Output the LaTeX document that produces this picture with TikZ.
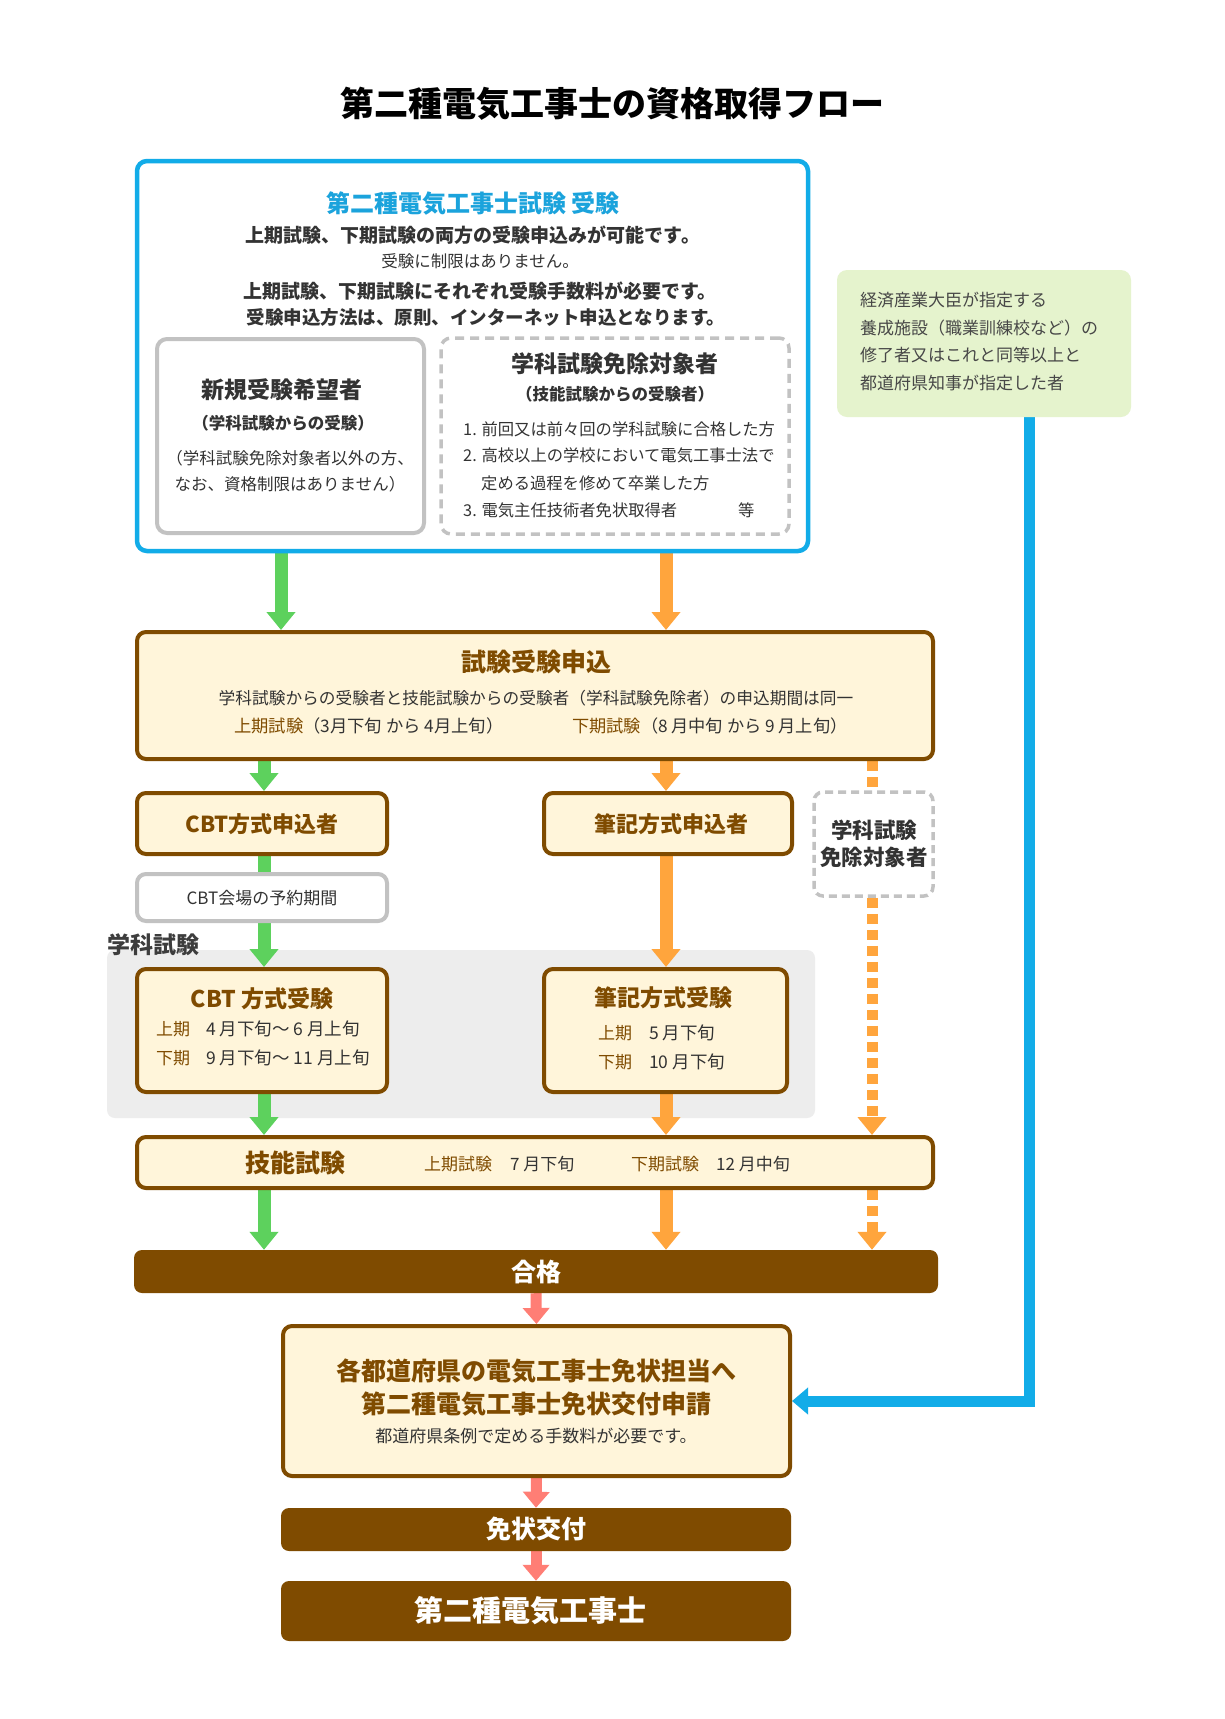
\documentclass[tikz,border=0pt]{standalone}
\usepackage{fontspec}
\setmainfont{Noto Sans CJK JP}
\usetikzlibrary{arrows.meta}
\definecolor{brownc}{HTML}{7F4B00}
\definecolor{cream}{HTML}{FFF5DA}
\definecolor{bluec}{HTML}{12ACE8}
\definecolor{bluet}{HTML}{1BA3DC}
\definecolor{greenA}{HTML}{5DD15D}
\definecolor{orangeA}{HTML}{FFA53D}
\definecolor{salmon}{HTML}{FF7E75}
\definecolor{grayB}{HTML}{C2C2C2}
\definecolor{greenBox}{HTML}{E5F3CD}
\definecolor{grayBg}{HTML}{EDEDED}
\definecolor{darkT}{HTML}{333333}
\newcommand\fsz[1]{\fontsize{#1}{#1}\selectfont}
\pgfdeclarelayer{bgback}
\pgfdeclarelayer{bgarrows}
\pgfsetlayers{bgback,bgarrows,main}
\begin{document}
\begin{tikzpicture}[x=1pt,y=-1pt,
  txt/.style={inner sep=0pt, text=darkT},
  btxt/.style={inner sep=0pt, text=brownc, font=\bfseries},
  bbox/.style={draw=brownc, line width=4pt, fill=cream, rounded corners=9pt, inner sep=0pt},
  bar/.style={fill=brownc, rounded corners=8pt, inner sep=0pt},
  garr/.style={draw=greenA, line width=13pt, -{Triangle[width=28pt,length=18pt]}},
  gline/.style={draw=greenA, line width=13pt},
  oarr/.style={draw=orangeA, line width=13pt, -{Triangle[width=28pt,length=18pt]}},
  odash/.style={draw=orangeA, line width=11pt, dash pattern=on 10pt off 6pt},
  odasharr/.style={draw=orangeA, line width=11pt, dash pattern=on 10pt off 6pt, -{Triangle[width=28pt,length=18pt]}},
  sarr/.style={draw=salmon, line width=11pt, -{Triangle[width=26pt,length=16pt]}},
  barr/.style={draw=bluec, line width=11pt, -{Triangle[width=26pt,length=16pt]}},
]
\useasboundingbox (0,0) rectangle (1225,1719);
\begin{pgfonlayer}{bgback}
\fill[white] (0,0) rectangle (1225,1719);
\end{pgfonlayer}

% title
\node[inner sep=0pt, text=black] (title) at (612,104) {\fsz{34}\bfseries 第二種電気工事士の資格取得フロー};

% exam box
\node[draw=bluec, line width=4.5pt, rounded corners=10pt, minimum width=671pt, minimum height=390pt, inner sep=0pt] (exam) at (472.5,356) {};
\node[inner sep=0pt, text=bluet] (e1) at (473,203) {\fsz{24}\bfseries 第二種電気工事士試験 受験};
\node[txt] (e2) at (473,235) {\fsz{19}\bfseries 上期試験、下期試験の両方の受験申込みが可能です。};
\node[txt] (e3) at (480,261) {\fsz{16.5}受験に制限はありません。};
\node[txt] (e4) at (480,291) {\fsz{19}\bfseries 上期試験、下期試験にそれぞれ受験手数料が必要です。};
\node[txt] (e5) at (486,317) {\fsz{18.5}\bfseries 受験申込方法は、原則、インターネット申込となります。};

% new applicants
\node[draw=grayB, line width=4pt, fill=white, rounded corners=10pt, minimum width=267pt, minimum height=194pt, inner sep=0pt] (newb) at (290.5,436) {};
\node[txt] (n1) at (282,390) {\fsz{23}\bfseries 新規受験希望者};
\node[txt] (n2) at (283,423) {\fsz{16.5}\bfseries （学科試験からの受験）};
\node[txt] (n3) at (290,458) {\fsz{16.5}（学科試験免除対象者以外の方、};
\node[txt] (n4) at (290,484) {\fsz{16.5}なお、資格制限はありません）};

% exempt box
\node[draw=grayB, line width=3.5pt, dash pattern=on 9pt off 6pt, rounded corners=10pt, minimum width=348pt, minimum height=196pt, inner sep=0pt] (exb) at (615,436) {};
\node[txt] (x1) at (615,364) {\fsz{23}\bfseries 学科試験免除対象者};
\node[txt] (x2) at (615,394) {\fsz{16.5}\bfseries （技能試験からの受験者）};
\node[txt, anchor=west] (x3) at (463,429) {\fsz{16.3}1. 前回又は前々回の学科試験に合格した方};
\node[txt, anchor=west] (x4) at (463,455) {\fsz{16.3}2. 高校以上の学校において電気工事士法で};
\node[txt, anchor=west] (x5) at (481,483) {\fsz{16.3}定める過程を修めて卒業した方};
\node[txt, anchor=west] (x6) at (463,510) {\fsz{16.3}3. 電気主任技術者免状取得者};
\node[txt, anchor=west] (x7) at (738,510) {\fsz{16.3}等};

% green box
\node[fill=greenBox, rounded corners=10pt, minimum width=294pt, minimum height=147pt, inner sep=0pt] (gbox) at (984,343.5) {};
\node[inner sep=0pt, text=darkT!90, anchor=west] (gb1) at (860,300) {\fsz{17}経済産業大臣が指定する};
\node[inner sep=0pt, text=darkT!90, anchor=west] (gb2) at (860,328) {\fsz{17}養成施設（職業訓練校など）の};
\node[inner sep=0pt, text=darkT!90, anchor=west] (gb3) at (860,355) {\fsz{17}修了者又はこれと同等以上と};
\node[inner sep=0pt, text=darkT!90, anchor=west] (gb4) at (860,383) {\fsz{17}都道府県知事が指定した者};

% application
\node[bbox, minimum width=796pt, minimum height=127pt] (apply) at (535,695.5) {};
\node[btxt] (a1) at (536,662) {\fsz{25}試験受験申込};
\node[txt] (a2) at (536,698) {\fsz{16.7}学科試験からの受験者と技能試験からの受験者（学科試験免除者）の申込期間は同一};
\node[txt, anchor=west] (a3) at (234,726) {\fsz{17.3}{\color{brownc}上期試験}（3月下旬 から 4月上旬）};
\node[txt, anchor=west] (a4) at (572,726) {\fsz{17.2}{\color{brownc}下期試験}（8 月中旬 から 9 月上旬）};

% applicants
\node[bbox, minimum width=250pt, minimum height=61pt] (cbtapp) at (262,823.5) {};
\node[btxt] (c1) at (262,824) {\fsz{22}CBT方式申込者};
\node[bbox, minimum width=248pt, minimum height=61pt] (hikiapp) at (668,823.5) {};
\node[btxt] (h1) at (671,824) {\fsz{22}筆記方式申込者};
\node[draw=grayB, line width=3.5pt, dash pattern=on 8pt off 5pt, fill=white, rounded corners=9pt, minimum width=119pt, minimum height=104pt, inner sep=0pt] (menjo) at (873.5,844) {};
\node[txt] (m1) at (874,830) {\fsz{21.5}\bfseries 学科試験};
\node[txt] (m2) at (874,857) {\fsz{21.5}\bfseries 免除対象者};

\node[draw=grayB, line width=4pt, fill=white, rounded corners=9pt, minimum width=250pt, minimum height=47pt, inner sep=0pt] (cbtres) at (262,897.5) {};
\node[txt] (r1) at (262,898) {\fsz{17}CBT会場の予約期間};

% gakka background
\begin{pgfonlayer}{bgback}
\node[fill=grayBg, rounded corners=8pt, minimum width=708pt, minimum height=168pt, inner sep=0pt] (gakka) at (461,1034) {};
\end{pgfonlayer}
\node[inner sep=0pt, text=darkT!95, anchor=west] (gl) at (107,945) {\fsz{23}\bfseries 学科試験};

\node[bbox, minimum width=250pt, minimum height=123pt] (cbtexam) at (262,1030.5) {};
\node[btxt] (ce1) at (262,999) {\fsz{23}CBT 方式受験};
\node[inner sep=0pt, text=brownc, anchor=west] (ce2) at (156,1029) {\fsz{17}上期};
\node[txt, anchor=west] (ce3) at (206,1029) {\fsz{17.5}4 月下旬～ 6 月上旬};
\node[inner sep=0pt, text=brownc, anchor=west] (ce4) at (156,1058) {\fsz{17}下期};
\node[txt, anchor=west] (ce5) at (206,1058) {\fsz{17.5}9 月下旬～ 11 月上旬};

\node[bbox, minimum width=243pt, minimum height=123pt] (hikiexam) at (665.5,1030.5) {};
\node[btxt] (he1) at (663,998) {\fsz{23}筆記方式受験};
\node[inner sep=0pt, text=brownc, anchor=west] (he2) at (598,1033) {\fsz{17}上期};
\node[txt, anchor=west] (he3) at (649,1033) {\fsz{17.5}5 月下旬};
\node[inner sep=0pt, text=brownc, anchor=west] (he4) at (598,1062) {\fsz{17}下期};
\node[txt, anchor=west] (he5) at (649,1062) {\fsz{17.5}10 月下旬};

% ginou
\node[bbox, minimum width=796pt, minimum height=51pt] (ginou) at (535,1162.5) {};
\node[btxt] (g1) at (295,1163) {\fsz{25}技能試験};
\node[inner sep=0pt, text=brownc, anchor=west] (g2) at (424,1164) {\fsz{17}上期試験};
\node[txt, anchor=west] (g3) at (510,1164) {\fsz{17}7 月下旬};
\node[inner sep=0pt, text=brownc, anchor=west] (g4) at (631,1164) {\fsz{17}下期試験};
\node[txt, anchor=west] (g5) at (716,1164) {\fsz{17}12 月中旬};

% pass
\node[bar, minimum width=804pt, minimum height=43pt] (pass) at (536,1271.5) {};
\node[inner sep=0pt, text=white] (p1) at (536,1272) {\fsz{25}\bfseries 合格};

% prefecture
\node[bbox, minimum width=507pt, minimum height=150pt] (pref) at (536.5,1401) {};
\node[btxt] (pf1) at (536,1371) {\fsz{25}各都道府県の電気工事士免状担当へ};
\node[btxt] (pf2) at (536,1404) {\fsz{25}第二種電気工事士免状交付申請};
\node[txt] (pf3) at (536,1436) {\fsz{17}都道府県条例で定める手数料が必要です。};

\node[bar, minimum width=510pt, minimum height=43pt] (menkyo) at (536,1529.5) {};
\node[inner sep=0pt, text=white] (mk1) at (536,1529) {\fsz{25}\bfseries 免状交付};

\node[bar, minimum width=510pt, minimum height=60pt] (final) at (536,1611) {};
\node[inner sep=0pt, text=white] (f1) at (530,1611) {\fsz{29}\bfseries 第二種電気工事士};

% column coordinates
\coordinate (cg1) at (281,0);
\coordinate (cg) at (264,0);
\coordinate (co) at (666,0);
\coordinate (cd) at (872,0);
\coordinate (cb) at (1029,0);

\begin{pgfonlayer}{bgarrows}
\draw[garr] (exam.south -| cg1) -- (apply.north -| cg1);
\draw[oarr] (exam.south -| co) -- (apply.north -| co);
\draw[garr] (apply.south -| cg) -- (cbtapp.north -| cg);
\draw[oarr] (apply.south -| co) -- (hikiapp.north -| co);
\draw[odash] (apply.south -| cd) -- (menjo.north -| cd);
\draw[gline] (cbtapp.south -| cg) -- (cbtres.north -| cg);
\draw[garr] (cbtres.south -| cg) -- (cbtexam.north -| cg);
\draw[oarr] (hikiapp.south -| co) -- (hikiexam.north -| co);
\draw[odasharr] (menjo.south -| cd) -- (ginou.north -| cd);
\draw[garr] (cbtexam.south -| cg) -- (ginou.north -| cg);
\draw[oarr] (hikiexam.south -| co) -- (ginou.north -| co);
\draw[garr] (ginou.south -| cg) -- (pass.north -| cg);
\draw[oarr] (ginou.south -| co) -- (pass.north -| co);
\draw[odasharr] (ginou.south -| cd) -- (pass.north -| cd);
\draw[sarr] (pass.south) -- (pref.north);
\draw[sarr] (pref.south) -- (menkyo.north);
\draw[sarr] (menkyo.south) -- (final.north);
\draw[barr] (gbox.south -| cb) |- (pref.east);
\end{pgfonlayer}
\end{tikzpicture}
\end{document}
